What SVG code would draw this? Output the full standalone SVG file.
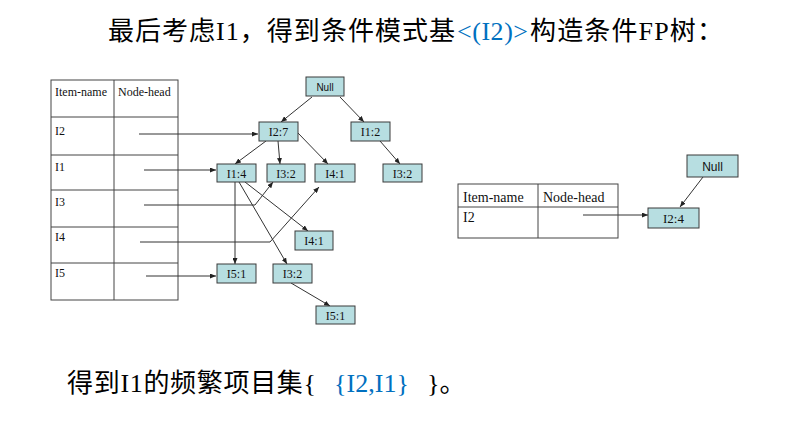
<svg xmlns="http://www.w3.org/2000/svg" width="810" height="424" viewBox="0 0 810 424">
<defs>
<marker id="ah" markerWidth="6" markerHeight="5" refX="6" refY="2.5" orient="auto" markerUnits="userSpaceOnUse">
<path d="M0,0 L6,2.5 L0,5 z" fill="#222"/>
</marker>
<style>
.t{font-family:"Liberation Serif","Noto Sans CJK SC",serif;font-size:26px;fill:#000}
.b{fill:#0070c0}
.tbl{fill:none;stroke:#444;stroke-width:1}
.tl{font-family:"Liberation Serif",serif;font-size:12px;fill:#111}
.tr{font-family:"Liberation Serif",serif;font-size:14px;fill:#111}
.n rect{fill:#b7dee1;stroke:#3a3a3a;stroke-width:1}
.nl{font-family:"Liberation Serif",serif;font-size:12px;fill:#111;text-anchor:middle}
.ns{font-family:"Liberation Sans",Arial,sans-serif;font-size:10px;fill:#111;text-anchor:middle}
.e{fill:none;stroke:#333;stroke-width:1;marker-end:url(#ah)}
</style>
</defs>
<rect width="810" height="424" fill="#fff"/>
<g id="title">
<text class="t" x="108" y="40" textLength="347" lengthAdjust="spacing">最后考虑I1，得到条件模式基</text>
<text class="t b" x="457" y="40" textLength="71" lengthAdjust="spacing">&lt;(I2)&gt;</text>
<text class="t" x="530" y="40" textLength="193" lengthAdjust="spacing">构造条件FP树：</text>
</g>
<g id="table-left">
<rect class="tbl" x="51" y="80" width="127" height="220"/>
<path class="tbl" d="M114,80 V300 M51,117 H178 M51,155 H178 M51,190 H178 M51,227 H178 M51,263 H178"/>
<text class="tl" x="55" y="96">Item-name</text>
<text class="tl" x="118" y="96">Node-head</text>
<text class="tl" x="55" y="135">I2</text>
<text class="tl" x="55" y="171">I1</text>
<text class="tl" x="55" y="206">I3</text>
<text class="tl" x="55" y="241">I4</text>
<text class="tl" x="55" y="277">I5</text>
</g>
<g id="connectors">
<path class="e" d="M139,134 H258"/>
<path class="e" d="M144,170 H216"/>
<path class="e" d="M144,205 H255 L273,182"/>
<path class="e" d="M140,242 H270 L319,187"/>
<path class="e" d="M146,276 H216"/>
<path class="e" d="M312,97 L281,122"/>
<path class="e" d="M340,97 L364,122"/>
<path class="e" d="M266,141 L235,164"/>
<path class="e" d="M278,141 L280,164"/>
<path class="e" d="M298,133 L328,164"/>
<path class="e" d="M380,141 L400,164"/>
<path class="e" d="M235,182 V264"/>
<path class="e" d="M239,182 L287,264"/>
<path class="e" d="M245,182 L308,231"/>
<path class="e" d="M291,283 L330,306"/>
<path class="e" d="M583,215 H648"/>
<path class="e" d="M703,177 L680,207"/>
</g>
<g id="null" class="n"><rect x="306" y="77" width="38" height="19"/><text class="ns" x="325" y="90.5">Null</text></g>
<g id="i2-7" class="n"><rect x="259" y="122" width="39" height="19"/><text class="nl" x="278.5" y="135.5">I2:7</text></g>
<g id="i1-2" class="n"><rect x="351" y="122" width="39" height="19"/><text class="nl" x="370.5" y="135.5">I1:2</text></g>
<g id="i1-4" class="n"><rect x="217" y="164" width="39" height="18"/><text class="nl" x="236.5" y="177.5">I1:4</text></g>
<g id="i3-2a" class="n"><rect x="267" y="164" width="38" height="18"/><text class="nl" x="286" y="177.5">I3:2</text></g>
<g id="i4-1a" class="n"><rect x="315" y="164" width="40" height="18"/><text class="nl" x="335" y="177.5">I4:1</text></g>
<g id="i3-2b" class="n"><rect x="383" y="164" width="39" height="18"/><text class="nl" x="402.5" y="177.5">I3:2</text></g>
<g id="i4-1b" class="n"><rect x="295" y="231" width="38" height="19"/><text class="nl" x="314" y="245">I4:1</text></g>
<g id="i5-1a" class="n"><rect x="217" y="264" width="39" height="19"/><text class="nl" x="236.5" y="278">I5:1</text></g>
<g id="i3-2c" class="n"><rect x="273" y="264" width="39" height="19"/><text class="nl" x="292.5" y="278">I3:2</text></g>
<g id="i5-1b" class="n"><rect x="316" y="306" width="39" height="18"/><text class="nl" x="335.5" y="319.5">I5:1</text></g>
<g id="table-right">
<rect class="tbl" x="458" y="184" width="160" height="54"/>
<path class="tbl" d="M538,184 V238 M458,207 H618"/>
<text class="tr" x="463" y="202">Item-name</text>
<text class="tr" x="543" y="202">Node-head</text>
<text class="tr" x="463" y="222">I2</text>
</g>
<g id="null-r" class="n"><rect x="687" y="155" width="51" height="22"/><text class="ns" x="712.5" y="170.5" style="font-size:12px">Null</text></g>
<g id="i2-4" class="n"><rect x="648" y="208" width="51" height="20"/><text class="nl" x="673.5" y="222.5" style="font-size:13px">I2:4</text></g>
<g id="result">
<text class="t" x="67" y="392" textLength="249" lengthAdjust="spacing">得到I1的频繁项目集{</text>
<text class="t b" x="334" y="392" textLength="75" lengthAdjust="spacing">{I2,I1}</text>
<text class="t" x="427" y="392">}。</text>
</g>
</svg>
